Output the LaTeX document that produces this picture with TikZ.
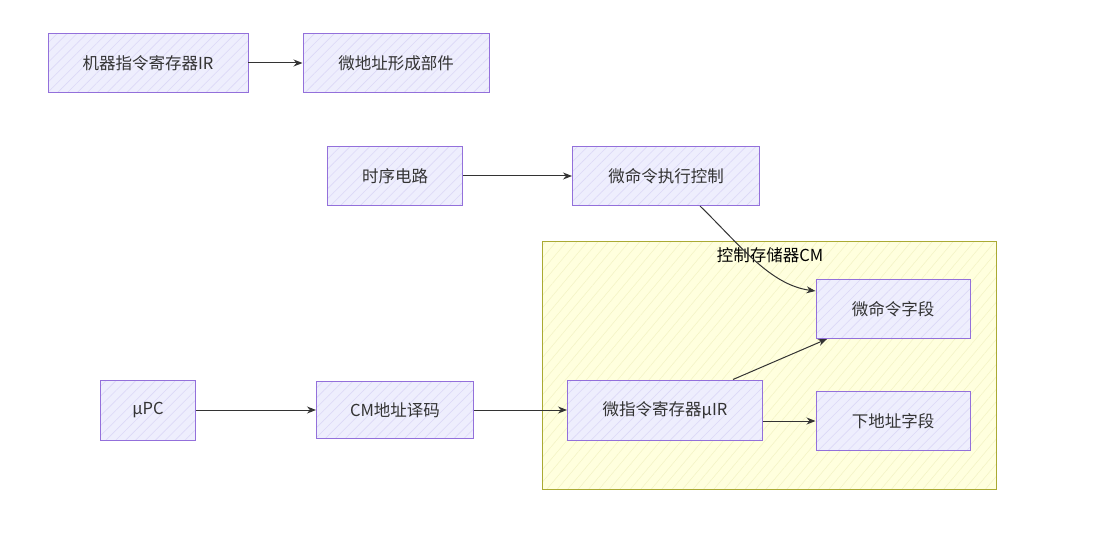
\documentclass[tikz,border=0pt]{standalone}
\usepackage{fontspec}
\newfontfamily\cjk{Noto Sans CJK SC}
\usetikzlibrary{arrows.meta,patterns.meta,calc}
\definecolor{nodefill}{HTML}{EEEEFD}
\definecolor{nodehatch}{HTML}{DCD8F7}
\definecolor{nodeline}{HTML}{9370DB}
\definecolor{clfill}{HTML}{FFFFDE}
\definecolor{clhatch}{HTML}{F4F4C6}
\definecolor{clline}{HTML}{AAAA33}
\definecolor{txt}{HTML}{333333}
\tikzset{
  box/.style={draw=nodeline, line width=1pt,
    preaction={fill=nodefill},
    pattern={Lines[angle=45,distance=7pt,line width=0.6pt]}, pattern color=nodehatch,
    minimum height=59pt, inner sep=0pt,
    font=\cjk\fontsize{16.5pt}{20pt}\selectfont, text=txt},
  cluster/.style={draw=clline, line width=1pt,
    preaction={fill=clfill},
    pattern={Lines[angle=50,distance=8pt,line width=0.6pt]}, pattern color=clhatch},
  conn/.style={draw=txt, line width=1pt, -{Stealth[length=9pt,width=7pt]}},
  lbl/.style={font=\cjk\fontsize{16.5pt}{20pt}\selectfont, text=black, inner sep=0pt}
}
\begin{document}
\begin{tikzpicture}[x=1pt,y=-1pt]
\useasboundingbox[fill=white] (0,0) rectangle (1102,556);
% cluster
\node[cluster, minimum width=454pt, minimum height=248pt, inner sep=0pt] (cm) at (769,365) {};
\node[lbl] (cmt) at (770,255) {控制存储器CM};
% nodes
\node[box, minimum width=200pt] (ir) at (148,63) {机器指令寄存器IR};
\node[box, minimum width=186pt] (wdz) at (396,63) {微地址形成部件};
\node[box, minimum width=135pt] (sx) at (395,176) {时序电路};
\node[box, minimum width=187pt] (wml) at (666,176) {微命令执行控制};
\node[box, minimum width=154pt] (cmd) at (893,309) {微命令字段};
\node[box, minimum width=154pt] (nxt) at (893,421) {下地址字段};
\node[box, minimum width=195pt, minimum height=60pt] (uir) at (665,410) {微指令寄存器μIR};
\node[box, minimum width=95pt, minimum height=60pt] (upc) at (148,410) {μPC};
\node[box, minimum width=157pt, minimum height=57pt] (dec) at (395,410) {CM地址译码};
% connectors
\draw[conn] (ir) -- (wdz);
\draw[conn] (sx) -- (wml);
\draw[conn] ([xshift=34pt]wml.south) .. controls (740,245) and (770,285) .. ([yshift=18pt]cmd.west);
\draw[conn] ([xshift=68pt]uir.north) -- ([xshift=-66pt]cmd.south);
\draw[conn] (uir.east |- nxt.west) -- (nxt.west);
\draw[conn] (upc) -- (dec);
\draw[conn] (dec) -- (uir);
\end{tikzpicture}
\end{document}
